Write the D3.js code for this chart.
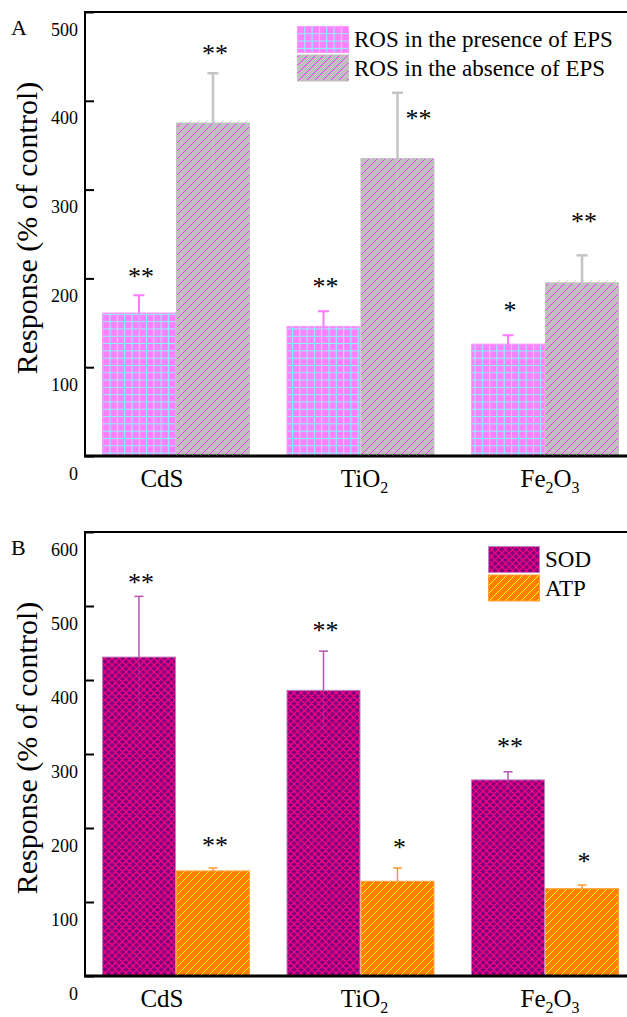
<!DOCTYPE html>
<html lang="en">
<head>
<meta charset="utf-8">
<title>ROS / SOD / ATP response</title>
<script src="https://d3js.org/d3.v7.min.js"></script>
<style>
  body { margin: 0; background: #fff; }
  svg { display: block; font-family: "Liberation Serif", "Times New Roman", serif; }
</style>
</head>
<body>
<svg id="chart" width="627" height="1017"></svg>
<script>
// ---- data ----
const categories = ["CdS", "TiO2", "Fe2O3"];

// panel A
const seriesA = ["ROS in the presence of EPS", "ROS in the absence of EPS"];
const rosWithEps = [161, 146, 126];
const rosWithEpsErr = [20, 17, 10];
const rosNoEps = [375, 335, 195];
const rosNoEpsErr = [56, 74, 31];
const sigWithEps = ["**", "**", "*"];
const sigNoEps = ["**", "**", "**"];
const ticksA = [0, 100, 200, 300, 400, 500];

// panel B
const seriesB = ["SOD", "ATP"];
const sod = [431, 386, 265];
const sodErr = [82, 53, 11];
const atp = [142, 128, 118];
const atpErr = [4, 18, 5];
const sigSod = ["**", "**", "**"];
const sigAtp = ["**", "*", "*"];
const ticksB = [0, 100, 200, 300, 400, 500, 600];

const FONT = "Liberation Serif, Times New Roman, serif";
const svg = d3.select("#chart").attr("font-family", FONT);
const defs = svg.append("defs");

// hatch patterns
function gridPattern(id, bg, line, s) {
  const p = defs.append("pattern").attr("id", id)
    .attr("patternUnits", "userSpaceOnUse").attr("width", s).attr("height", s);
  p.append("rect").attr("width", s).attr("height", s).attr("fill", bg);
  p.append("path").attr("d", `M0,0.5H${s}M0.5,0V${s}`)
    .attr("stroke", line).attr("stroke-width", 1);
}
function diagPattern(id, bg, line, s, cross, w, crisp) {
  const p = defs.append("pattern").attr("id", id)
    .attr("patternUnits", "userSpaceOnUse").attr("width", s).attr("height", s);
  p.append("rect").attr("width", s).attr("height", s).attr("fill", bg);
  let d = `M0,${s}L${s},0M${-s/2},${s/2}L${s/2},${-s/2}M${s/2},${s*1.5}L${s*1.5},${s/2}`;
  if (cross) d += `M0,0L${s},${s}M${-s/2},${s/2}L${s/2},${s*1.5}M${s/2},${-s/2}L${s*1.5},${s/2}`;
  p.append("path").attr("d", d).attr("stroke", line).attr("stroke-width", w)
    .attr("shape-rendering", crisp ? "crispEdges" : null);
}
gridPattern("pGrid", "#ff80ff", "#80ffff", 7.3);
diagPattern("pGray", "#c0c0c0", "#ff33ff", 8, false, 1.2, true);
diagPattern("pSod", "#800080", "#ff0080", 7, true, 1.2, false);
diagPattern("pAtp", "#ff8000", "#ffff00", 8, false, 1.2, true);

// chemical formula with subscripts
function formula(sel, txt, subSize) {
  txt.split(/(\d+)/).filter(s => s.length).forEach((part, i, arr) => {
    const isSub = /^\d+$/.test(part);
    const prevSub = i > 0 && /^\d+$/.test(arr[i - 1]);
    sel.append("tspan")
      .attr("font-size", isSub ? subSize : null)
      .attr("dy", isSub ? 6 : (prevSub ? -6 : 0))
      .text(part);
  });
}

function drawPanel(cfg) {
  const left = 85, right = 636;
  const y = d3.scaleLinear().domain([0, cfg.max]).range([cfg.bottom, cfg.top]);
  const x0 = d3.scaleBand().domain(categories).range([left, right])
    .paddingInner(0.198).paddingOuter(0.092);
  const x1 = d3.scaleBand().domain([0, 1]).range([0, x0.bandwidth()]);

  const g = svg.append("g");

  // bars
  cfg.series.forEach((s, si) => {
    const rows = categories.map((c, i) => ({ c, i, v: s.values[i], e: s.err[i], sig: s.sig[i] }));
    const gs = g.append("g");
    gs.selectAll("rect").data(rows).join("rect")
      .attr("x", d => x0(d.c) + x1(si) + 0.5)
      .attr("y", d => y(d.v))
      .attr("width", x1.bandwidth() - 1)
      .attr("height", d => y(0) - y(d.v))
      .attr("fill", `url(#${s.pattern})`)
      .attr("stroke", s.edge).attr("stroke-width", 1);

    const cx = d => x0(d.c) + x1(si) + x1.bandwidth() / 2;
    // error bars (lower half shows faintly through the bar)
    gs.selectAll("line.lo").data(rows).join("line").attr("class", "lo")
      .attr("x1", cx).attr("x2", cx)
      .attr("y1", d => y(d.v)).attr("y2", d => y(d.v - d.e))
      .attr("stroke", s.errColor).attr("stroke-width", s.errWidth).attr("opacity", 0.35);
    gs.selectAll("line.up").data(rows).join("line").attr("class", "up")
      .attr("x1", cx).attr("x2", cx)
      .attr("y1", d => y(d.v)).attr("y2", d => y(d.v + d.e))
      .attr("stroke", s.errColor).attr("stroke-width", s.errWidth);
    gs.selectAll("line.cap").data(rows).join("line").attr("class", "cap")
      .attr("x1", d => cx(d) - s.cap / 2).attr("x2", d => cx(d) + s.cap / 2)
      .attr("y1", d => y(d.v + d.e)).attr("y2", d => y(d.v + d.e))
      .attr("stroke", s.errColor).attr("stroke-width", s.errWidth);

    // significance marks
    gs.selectAll("text").data(rows).join("text")
      .attr("x", d => cx(d) + 2 + (s.starDx ? s.starDx[d.i] : 0))
      .attr("y", d => y(d.v + d.e) - s.starGap[d.i] + 12)
      .attr("text-anchor", "middle")
      .attr("font-size", 26)
      .text(d => d.sig);
  });

  // y axis, ticks pointing inward, labels sitting below their tick
  const ax = g.append("g").attr("transform", `translate(${left},0)`)
    .call(d3.axisLeft(y).tickValues(cfg.ticks).tickSizeInner(-9).tickSizeOuter(0).tickPadding(7));
  ax.attr("font-family", FONT);
  ax.select(".domain").remove();
  ax.selectAll(".tick line").attr("stroke", "#000").attr("stroke-width", 2);
  ax.selectAll(".tick text")
    .attr("font-size", 18).attr("fill", "#000")
    .attr("dy", 0).attr("y", 23);

  // frame
  g.append("line").attr("x1", left).attr("x2", left).attr("y1", cfg.top).attr("y2", cfg.bottom + 1)
    .attr("stroke", "#000").attr("stroke-width", 2);
  g.append("line").attr("x1", left - 1).attr("x2", right).attr("y1", cfg.top).attr("y2", cfg.top)
    .attr("stroke", "#000").attr("stroke-width", 2);
  g.append("line").attr("x1", left - 1).attr("x2", right).attr("y1", cfg.bottom).attr("y2", cfg.bottom)
    .attr("stroke", "#000").attr("stroke-width", 3);
  g.append("line").attr("x1", right).attr("x2", right).attr("y1", cfg.top).attr("y2", cfg.bottom)
    .attr("stroke", "#000").attr("stroke-width", 2);

  // category labels
  const shift = [-14, 4, 5];
  categories.forEach((c, i) => {
    const t = g.append("text")
      .attr("x", x0(c) + x0.bandwidth() / 2 + shift[i])
      .attr("y", cfg.bottom + 31)
      .attr("text-anchor", "middle").attr("font-size", 25);
    formula(t, c, 16);
  });

  // axis title
  g.append("text")
    .attr("transform", `translate(37,${(cfg.top + cfg.bottom) / 2 - 6}) rotate(-90)`)
    .attr("text-anchor", "middle").attr("font-size", 30)
    .text("Response (% of control)");

  // panel letter
  g.append("text").attr("x", 11).attr("y", cfg.top + 23)
    .attr("font-size", 22).text(cfg.letter);

  // legend
  const lg = g.append("g").attr("transform", `translate(${cfg.legendX},${cfg.top + 14})`);
  cfg.series.forEach((s, i) => {
    lg.append("rect").attr("x", 0.5).attr("y", i * 28.5 + 0.5).attr("width", 51).attr("height", 26)
      .attr("fill", `url(#${s.pattern})`).attr("stroke", s.edge);
    lg.append("text").attr("x", 57).attr("y", i * 28.5 + 21)
      .attr("font-size", 23).text(s.name);
  });
}

drawPanel({
  letter: "A", top: 12, bottom: 456, max: 500, ticks: ticksA, legendX: 297,
  series: [
    { name: seriesA[0], values: rosWithEps, err: rosWithEpsErr, sig: sigWithEps,
      pattern: "pGrid", edge: "#ff99ff", errColor: "#ff77ff", errWidth: 2, cap: 11,
      starGap: [22, 28, 28] },
    { name: seriesA[1], values: rosNoEps, err: rosNoEpsErr, sig: sigNoEps,
      pattern: "pGray", edge: "#c0c0c0", errColor: "#c4c4c4", errWidth: 2.5, cap: 11,
      starGap: [23, -22, 37], starDx: [0, 19, 0] }
  ]
});

drawPanel({
  letter: "B", top: 532, bottom: 976, max: 600, ticks: ticksB, legendX: 488,
  series: [
    { name: seriesB[0], values: sod, err: sodErr, sig: sigSod,
      pattern: "pSod", edge: "#c080c0", errColor: "#b455b4", errWidth: 1.5, cap: 9,
      starGap: [17, 24, 29] },
    { name: seriesB[1], values: atp, err: atpErr, sig: sigAtp,
      pattern: "pAtp", edge: "#ffa040", errColor: "#ff9933", errWidth: 1.5, cap: 9,
      starGap: [26, 24, 27] }
  ]
});
</script>
</body>
</html>
